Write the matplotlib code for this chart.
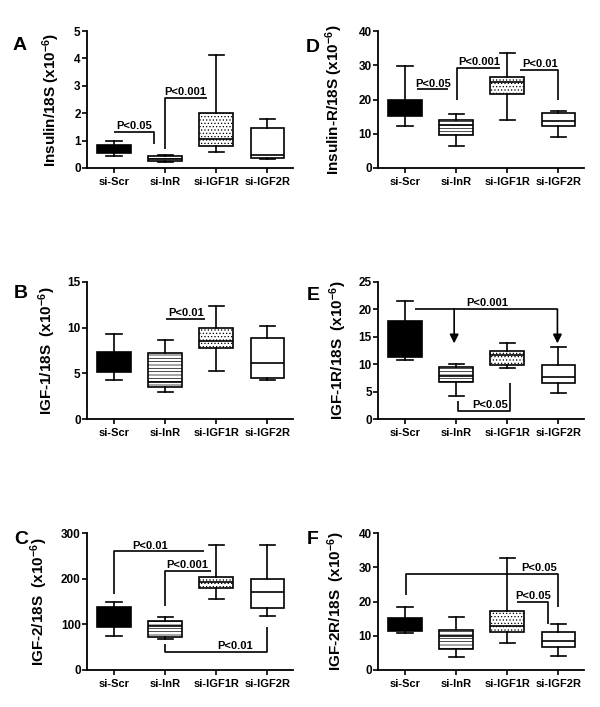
import matplotlib
matplotlib.use('Agg')
import matplotlib.pyplot as plt

plt.rcParams['font.family'] = ['Liberation Sans', 'DejaVu Sans']
plt.rcParams['font.weight'] = 'bold'
plt.rcParams['mathtext.fontset'] = 'custom'
plt.rcParams['mathtext.bf'] = 'Liberation Sans:bold'
plt.rcParams['mathtext.rm'] = 'Liberation Sans:bold'
plt.rcParams['mathtext.default'] = 'bf'
plt.rcParams['hatch.linewidth'] = 0.5

groups = ['si-Scr', 'si-InR', 'si-IGF1R', 'si-IGF2R']

# five-number summaries per group: (whisker low, q1, median, q3, whisker high)
insulin = [(0.44, 0.55, 0.65, 0.85, 0.99),
           (0.22, 0.26, 0.33, 0.43, 0.46),
           (0.58, 0.79, 1.07, 2.00, 4.11),
           (0.32, 0.37, 0.47, 1.47, 1.80)]
igf1 = [(4.32, 5.13, 6.2, 7.29, 9.27),
        (2.93, 3.48, 4.1, 7.20, 8.60),
        (5.31, 7.77, 8.53, 10.0, 12.4),
        (4.32, 4.54, 6.12, 8.86, 10.15)]
igf2 = [(75, 94, 115, 137, 150),
        (67, 73, 97, 108, 117),
        (155, 180, 192, 203, 273),
        (118, 136, 170, 200, 274)]
insulin_r = [(12.4, 15.1, 17.0, 20.0, 29.75),
             (6.5, 9.5, 12.6, 14.1, 15.8),
             (14.1, 21.5, 25.2, 26.7, 33.5),
             (9.1, 12.3, 13.8, 16.0, 16.6)]
igf1r = [(10.85, 11.3, 14.0, 17.9, 21.6),
         (4.27, 6.7, 7.9, 9.45, 10.06),
         (9.3, 9.9, 11.6, 12.4, 13.84),
         (4.8, 6.65, 7.74, 9.8, 13.1)]
igf2r = [(10.7, 11.5, 13.0, 15.2, 18.5),
         (3.8, 6.1, 10.0, 11.7, 15.4),
         (7.8, 11.2, 12.8, 17.2, 32.8),
         (4.2, 6.8, 8.4, 11.2, 13.3)]

fills = ['black', 'white', 'white', 'white']
hatches = [None, '-----', '.....', None]

W, H = 600, 707
fig = plt.figure(figsize=(6, 7.07), dpi=100)


def make_axes(left, top):
    return fig.add_axes([left / W, 1 - (top + 137) / H, 206 / W, 137 / H])


def boxes(ax, summary, ymax, step, ylabel, letter, label_x, letter_xy):
    stats = []
    for name, (lo, q1, med, q3, hi) in zip(groups, summary):
        stats.append(dict(label=name, whislo=lo, q1=q1, med=med, q3=q3, whishi=hi, fliers=[]))
    lw = 1.2
    art = ax.bxp(stats, positions=range(4), widths=0.66, capwidths=0.3,
                 patch_artist=True, showfliers=False,
                 boxprops=dict(linewidth=lw, edgecolor='black'),
                 whiskerprops=dict(linewidth=lw, color='black'),
                 capprops=dict(linewidth=lw, color='black'),
                 medianprops=dict(linewidth=lw, color='black'))
    for patch, fc, h in zip(art['boxes'], fills, hatches):
        patch.set_facecolor(fc)
        if h:
            patch.set_hatch(h)
    ax.set_xlim(-0.53, 3.5)
    ax.set_ylim(0, ymax)
    ax.set_yticks(range(0, int(ymax) + 1, step))
    for s in ['top', 'right']:
        ax.spines[s].set_visible(False)
    for s in ['left', 'bottom']:
        ax.spines[s].set_linewidth(1.3)
    ax.tick_params(axis='y', length=3.5, width=1.2, pad=1, labelsize=8.5)
    ax.tick_params(axis='x', length=3.5, width=1.2, pad=3, labelsize=8)
    ax.set_xticks(range(4))
    ax.set_xticklabels(groups, fontweight='bold')
    for t in ax.get_yticklabels():
        t.set_fontweight('bold')
    ax.set_ylabel(ylabel, fontsize=11, fontweight='bold')
    ax.yaxis.set_label_coords(label_x, 0.5)
    fig.text(letter_xy[0] / W, 1 - letter_xy[1] / H, letter, fontsize=14,
             fontweight='bold', ha='center', va='center')


def line(ax, xs, ys):
    ax.plot(xs, ys, color='black', lw=1.2, solid_capstyle='butt', clip_on=False)


def ptext(ax, x, y, s):
    ax.annotate(s, (x, y), xytext=(0, 0.5), textcoords='offset points',
                ha='center', va='bottom', fontsize=8, fontweight='bold')


def arrow(ax, x, y0, y1):
    ax.annotate('', xy=(x, y1), xytext=(x, y0),
                arrowprops=dict(arrowstyle='-|>', lw=1.2, color='black',
                                mutation_scale=13, shrinkA=0, shrinkB=0))


# A
ax = make_axes(87, 31)
boxes(ax, insulin, 5, 1, 'Insulin/18S (x10$^{-6}$)', 'A', -0.12, (20, 46))
line(ax, [0, 0.78, 0.78], [1.31, 1.31, 0.86])
ptext(ax, 0.4, 1.31, 'P<0.05')
line(ax, [1.0, 1.0, 1.82], [0.7, 2.55, 2.55])
ptext(ax, 1.4, 2.55, 'P<0.001')

# B
ax = make_axes(87, 282)
boxes(ax, igf1, 15, 5, 'IGF-1/18S  (x10$^{-6}$)', 'B', -0.14, (21, 294))
line(ax, [1.02, 1.78], [11.0, 11.0])
ptext(ax, 1.4, 11.0, 'P<0.01')

# C
ax = make_axes(87, 533)
boxes(ax, igf2, 300, 100, 'IGF-2/18S  (x10$^{-6}$)', 'C', -0.18, (21, 540))
line(ax, [0, 0, 1.75], [167, 260, 260])
ptext(ax, 0.7, 260, 'P<0.01')
line(ax, [1.0, 1.0, 1.9], [141, 217, 217])
ptext(ax, 1.43, 217, 'P<0.001')
line(ax, [1.0, 1.0, 3.0, 3.0], [57, 40, 40, 94])
ptext(ax, 2.37, 40, 'P<0.01')

# D
ax = make_axes(378, 31)
boxes(ax, insulin_r, 40, 10, 'Insulin-R/18S (x10$^{-6}$)', 'D', -0.16, (313, 47))
line(ax, [0.24, 0.84], [23, 23])
ptext(ax, 0.54, 23, 'P<0.05')
line(ax, [1.02, 1.02, 1.86], [20, 29.2, 29.2])
ptext(ax, 1.45, 29.2, 'P<0.001')
line(ax, [2.25, 3.0, 3.0], [28.7, 28.7, 20])
ptext(ax, 2.65, 28.7, 'P<0.01')

# E
ax = make_axes(378, 282)
boxes(ax, igf1r, 25, 5, 'IGF-1R/18S  (x10$^{-6}$)', 'E', -0.14, (313, 295))
line(ax, [0.2, 2.98], [20.06, 20.06])
arrow(ax, 0.96, 20.06, 13.8)
arrow(ax, 2.98, 20.06, 13.8)
ptext(ax, 1.6, 20.06, 'P<0.001')
line(ax, [1.04, 1.04, 2.06, 2.06], [3.3, 1.5, 1.5, 6.5])
ptext(ax, 1.67, 1.5, 'P<0.05')

# F
ax = make_axes(378, 533)
boxes(ax, igf2r, 40, 10, 'IGF-2R/18S  (x10$^{-6}$)', 'F', -0.15, (313, 540))
line(ax, [0.02, 0.02, 3.0, 3.0], [22, 28.1, 28.1, 18.3])
ptext(ax, 2.63, 28.1, 'P<0.05')
line(ax, [2.18, 2.8, 2.8], [19.8, 19.8, 13.3])
ptext(ax, 2.5, 19.8, 'P<0.05')

fig.savefig('out.png', dpi=100)
